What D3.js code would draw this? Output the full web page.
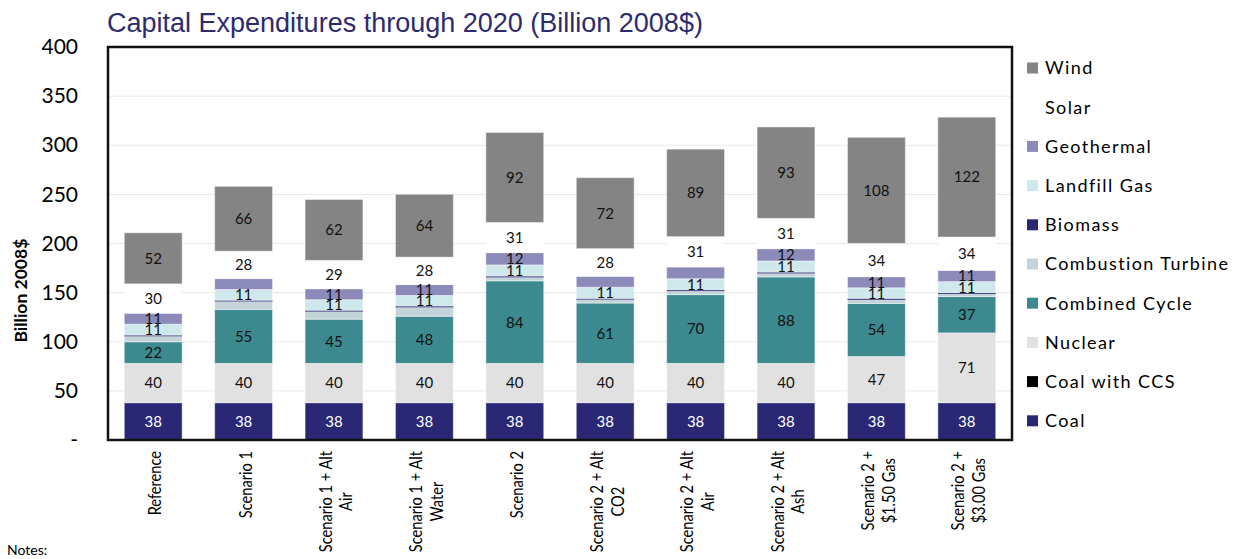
<!DOCTYPE html>
<html>
<head>
<meta charset="utf-8">
<script src="https://cdn.jsdelivr.net/npm/d3@7"></script>
<style>
  body { margin: 0; background: #fff; }
  svg { display: block; }
  .title { font-family: "Liberation Sans", Arial, sans-serif; font-size: 27px; fill: #2d2b6e; }
  .tick text, .lbl, .legend text, .notes, .ytitle { font-family: Lato, "Noto Sans", sans-serif; }
</style>
</head>
<body>
<div id="chart"></div>
<script>
// categories (line breaks as in the original axis)
var categories = ["Reference", "Scenario 1", "Scenario 1 + Alt\nAir", "Scenario 1 + Alt\nWater", "Scenario 2",
                  "Scenario 2 + Alt\nCO2", "Scenario 2 + Alt\nAir", "Scenario 2 + Alt\nAsh",
                  "Scenario 2 +\n$1.50 Gas", "Scenario 2 +\n$3.00 Gas"];

// series, billion 2008$ (bottom of stack first)
var coal              = [38, 38, 38, 38, 38, 38, 38, 38, 38, 38];
var coalCCS           = [0, 0, 0, 0, 0, 0, 0, 0, 0, 0];
var nuclear           = [40, 40, 40, 40, 40, 40, 40, 40, 47, 71];
var combinedCycle     = [22, 55, 45, 48, 84, 61.4, 70, 88, 54, 37];
var combustionTurbine = [5.5, 8, 7.7, 9, 3.5, 3.5, 3.5, 3.5, 3.7, 2.5];
var biomass           = [1.2, 1.2, 1.3, 1.3, 1.3, 1.2, 1.2, 1.3, 1.4, 1.3];
var landfillGas       = [11.2, 11, 10.8, 10.8, 11.4, 11.4, 11.4, 11.4, 10.8, 11.4];
var geothermal        = [11, 11, 11, 11, 12.4, 11, 11.9, 12.4, 11.2, 11.4];
var solar             = [30, 28, 29, 28, 30.8, 28.3, 31, 31, 34, 34];
var wind              = [52, 66, 62, 64, 91.6, 72.2, 89, 93, 108, 122];

// geothermal labels that were kept on the original chart
var geothermalLabels  = ["11", "", "11", "11", "12", "", "", "12", "11", "11"];

var yTicks = [0, 50, 100, 150, 200, 250, 300, 350, 400];

var series = [
  {key: "coal", name: "Coal", values: coal, color: "#2a2874"},
  {key: "coalCCS", name: "Coal with CCS", values: coalCCS, color: "#000000"},
  {key: "nuclear", name: "Nuclear", values: nuclear, color: "#e1e1e1"},
  {key: "combinedCycle", name: "Combined Cycle", values: combinedCycle, color: "#3c8a8f"},
  {key: "combustionTurbine", name: "Combustion Turbine", values: combustionTurbine, color: "#c2d4d7"},
  {key: "biomass", name: "Biomass", values: biomass, color: "#2a2874"},
  {key: "landfillGas", name: "Landfill Gas", values: landfillGas, color: "#cfe8ec"},
  {key: "geothermal", name: "Geothermal", values: geothermal, color: "#8b8ab9"},
  {key: "solar", name: "Solar", values: solar, color: "#ffffff"},
  {key: "wind", name: "Wind", values: wind, color: "#848484"}
];

var labelled = {coal: true, nuclear: true, combinedCycle: true, landfillGas: true,
                geothermal: true, solar: true, wind: true};

var width = 1237, height = 559;
var margin = {top: 47, right: 225, bottom: 119, left: 108};
var graphWidth = width - margin.left - margin.right;
var graphHeight = height - margin.top - margin.bottom;

// build rows for d3.stack
var rows = categories.map(function(c, i) {
  var r = {category: c};
  series.forEach(function(s) { r[s.key] = s.values[i]; });
  return r;
});

var stacked = d3.stack().keys(series.map(function(s) { return s.key; }))(rows);

var svg = d3.select("#chart")
  .append("svg")
  .attr("width", width)
  .attr("height", height);

var g = svg.append("g")
  .attr("transform", "translate(" + margin.left + "," + margin.top + ")");

var x = d3.scaleBand()
  .domain(categories)
  .range([0, graphWidth])
  .paddingInner(0.36)
  .paddingOuter(0.18);

var y = d3.scaleLinear()
  .domain([0, 400])
  .range([graphHeight, 0]);

// gridlines
g.append("g")
  .selectAll("line")
  .data(yTicks.filter(function(d) { return d > 0 && d < 400; }))
  .enter()
  .append("line")
  .attr("x1", 0)
  .attr("x2", graphWidth)
  .attr("y1", function(d) { return y(d); })
  .attr("y2", function(d) { return y(d); })
  .style("stroke", "#e8e8e8")
  .style("stroke-width", 1);

// y axis
var yAxis = g.append("g")
  .attr("class", "y axis")
  .call(d3.axisLeft(y)
    .tickValues(yTicks)
    .tickSize(0)
    .tickPadding(30)
    .tickFormat(function(d) { return d === 0 ? "-" : d; }));
yAxis.select(".domain").remove();
yAxis.selectAll("text")
  .style("font-size", "21px")
  .style("fill", "#000");

// y axis title
svg.append("text")
  .attr("class", "ytitle")
  .attr("transform", "translate(27," + (margin.top + y(152)) + ")rotate(-90)")
  .style("text-anchor", "middle")
  .style("font-size", "17.5px")
  .style("font-weight", "bold")
  .text("Billion 2008$");

// bars
var layers = g.selectAll(".layer")
  .data(stacked)
  .enter()
  .append("g")
  .attr("class", "layer")
  .style("fill", function(d, i) { return series[i].color; });

layers.selectAll("rect")
  .data(function(d) { return d; })
  .enter()
  .append("rect")
  .attr("x", function(d) { return x(d.data.category); })
  .attr("width", x.bandwidth())
  .attr("y", function(d) { return y(d[1]); })
  .attr("height", function(d) { return y(d[0]) - y(d[1]); })
  .style("stroke", function() {
    var k = d3.select(this.parentNode).datum().key;
    return (k === "biomass" || k === "solar") ? "none" : "rgba(255,255,255,0.45)";
  })
  .style("stroke-width", 1);

// segment labels
stacked.forEach(function(layer, si) {
  var key = series[si].key;
  if (!labelled[key]) { return; }
  g.append("g")
    .selectAll("text")
    .data(layer)
    .enter()
    .append("text")
    .attr("class", "lbl")
    .attr("x", function(d) { return x(d.data.category) + x.bandwidth() / 2; })
    .attr("y", function(d) { return y((d[0] + d[1]) / 2); })
    .attr("dy", "0.36em")
    .style("text-anchor", "middle")
    .style("font-size", "15px")
    .style("fill", key === "coal" ? "#fff" : "#111")
    .text(function(d, i) {
      if (key === "geothermal") { return geothermalLabels[i]; }
      return Math.round(d[1] - d[0]);
    });
});

// totals
var top = stacked[stacked.length - 1];
var totals = g.append("g")
  .selectAll("g")
  .data(top)
  .enter()
  .append("g")
  .attr("transform", function(d) {
    return "translate(" + (x(d.data.category) + x.bandwidth() / 2) + "," + y(d[1]) + ")";
  });
totals.append("text")
  .attr("class", "lbl")
  .attr("y", -23)
  .style("text-anchor", "middle")
  .style("font-size", "16px")
  .style("letter-spacing", "0.5px")
  .text("Total");
totals.append("text")
  .attr("class", "lbl")
  .attr("y", -5)
  .style("text-anchor", "middle")
  .style("font-size", "15.5px")
  .style("letter-spacing", "0.5px")
  .text(function(d) { return Math.round(d[1]); });

// x axis (rotated, multi-line, narrowed labels)
var squeeze = 0.86;
var xAxis = g.append("g")
  .attr("class", "x axis")
  .attr("transform", "translate(0," + graphHeight + ")")
  .call(d3.axisBottom(x).tickSize(0));
xAxis.select(".domain").remove();
xAxis.selectAll(".tick").each(function(cat) {
  var tick = d3.select(this);
  tick.select("text").remove();
  var lines = cat.split("\n");
  var texts = lines.map(function(line, i) {
    return tick.append("text")
      .attr("transform", "rotate(-90)scale(" + squeeze + ",1)")
      .attr("y", 8 + (i - (lines.length - 1) / 2) * 21)
      .style("text-anchor", "middle")
      .style("font-size", "17px")
      .style("fill", "#000")
      .text(line);
  });
  var maxLen = d3.max(texts, function(t) { return t.node().getComputedTextLength(); });
  texts.forEach(function(t) { t.attr("x", -(11 + maxLen * squeeze / 2) / squeeze); });
});

// plot frame
g.append("rect")
  .attr("width", graphWidth)
  .attr("height", graphHeight)
  .style("fill", "none")
  .style("stroke", "#111")
  .style("stroke-width", 2.5);

// title
svg.append("text")
  .attr("class", "title")
  .attr("x", 107)
  .attr("y", 32)
  .text("Capital Expenditures through 2020 (Billion 2008$)");

// legend (top to bottom = top of stack first)
var legend = svg.append("g")
  .attr("class", "legend")
  .attr("transform", "translate(1027,68)");
var items = legend.selectAll("g")
  .data(series.slice().reverse())
  .enter()
  .append("g")
  .attr("transform", function(d, i) { return "translate(0," + (i * 39.2) + ")"; });
items.append("rect")
  .attr("y", -5.5)
  .attr("width", 11)
  .attr("height", 11)
  .style("fill", function(d) { return d.color; });
items.append("text")
  .attr("x", 18)
  .attr("dy", "0.36em")
  .style("font-size", "18px")
  .style("letter-spacing", "1.4px")
  .style("fill", "#000")
  .text(function(d) { return d.name; });

// notes
svg.append("text")
  .attr("class", "notes")
  .attr("x", 7)
  .attr("y", 555)
  .style("font-size", "14px")
  .text("Notes:");
</script>
</body>
</html>
